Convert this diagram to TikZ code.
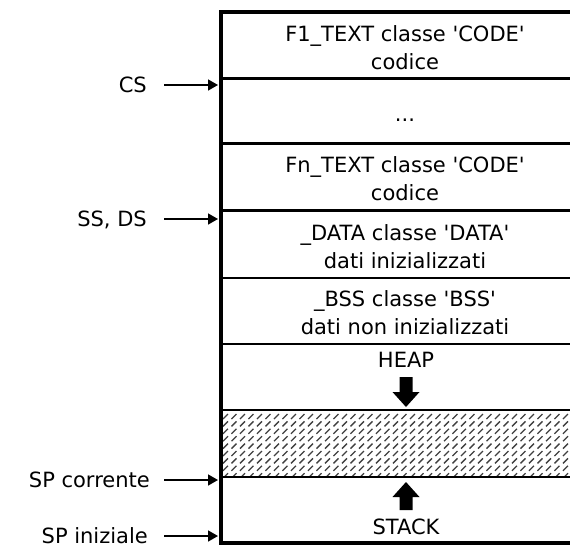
\documentclass[tikz,border=0pt]{standalone}
\usepackage{fontspec}
\setmainfont{DejaVu Sans}
\usetikzlibrary{arrows.meta}
\begin{document}
\begin{tikzpicture}[x=1pt,y=-1pt,
  lbl/.style={font=\fontsize{21}{28}\selectfont, anchor=east, inner sep=0pt, text height=15.5pt, text depth=0pt},
  txt/.style={font=\fontsize{21}{28}\selectfont, align=center, inner sep=0pt},
  ptr/.style={line width=1.6pt, -{Triangle[length=10pt,width=11pt]}},
  outerline/.style={line width=4pt},
  divA/.style={line width=3pt},
  divB/.style={line width=2pt},
  hatchmark/.style={black!75, line width=1.3pt},
  blockarrow/.style={fill=black}
]
\useasboundingbox (0,0) rectangle (570,547);
\clip (0,0) rectangle (570,547);

% hatched free area
\begin{scope}
  \clip (221,410) rectangle (600,477);
  \foreach \j in {0,...,8} {
    \foreach \i in {0,...,45} {
      \draw[hatchmark] ({221+\i*8.5+2}, {414+\j*7.4+5}) -- ++(5,-5);
    }
  }
\end{scope}

% memory block
\draw[outerline] (600,12) -- (221,12) -- (221,543) -- (600,543);
\draw[divA] (221,78) -- (600,78);
\draw[divA] (221,143.5) -- (600,143.5);
\draw[divA] (221,210.5) -- (600,210.5);
\draw[divB] (221,277.5) -- (600,277.5);
\draw[divB] (221,344) -- (600,344);
\draw[divB] (221,410) -- (600,410);
\draw[divB] (221,477) -- (600,477);

% segment texts
\node[txt] (f1) at (405,47.5) {F1\_TEXT classe \textquotesingle CODE\textquotesingle\\codice};
\node[txt] (dots) at (405,120) {...};
\node[txt] (fn) at (405,179) {Fn\_TEXT classe \textquotesingle CODE\textquotesingle\\codice};
\node[txt] (data) at (405,247) {\_DATA classe \textquotesingle DATA\textquotesingle\\dati inizializzati};
\node[txt] (bss) at (405,312.5) {\_BSS classe \textquotesingle BSS\textquotesingle\\dati non inizializzati};
\node[txt] (heap) at (406,360) {HEAP};
\node[txt] (stack) at (406,527) {STACK};

% growth arrows
\fill[blockarrow] (399.5,377) -- (412.5,377) -- (412.5,392) -- (419.5,392) -- (406,407) -- (392.5,392) -- (399.5,392) -- cycle;
\fill[blockarrow] (399.5,510) -- (412.5,510) -- (412.5,497) -- (419.5,497) -- (406,482) -- (392.5,497) -- (399.5,497) -- cycle;

% pointer labels
\node[lbl] (cs) at (147,85) {CS};
\node[lbl] (ssds) at (147,219) {SS, DS};
\node[lbl] (spc) at (150,480) {SP corrente};
\node[lbl] (spi) at (148,535.5) {SP iniziale};

\coordinate (csT) at (218,85);
\coordinate (ssdsT) at (218,219);
\coordinate (spcT) at (218,480);
\coordinate (spiT) at (218,536);

\draw[ptr] (164,85) -- (csT);
\draw[ptr] (164,219) -- (ssdsT);
\draw[ptr] (164,480) -- (spcT);
\draw[ptr] (164,536) -- (spiT);
\end{tikzpicture}
\end{document}
